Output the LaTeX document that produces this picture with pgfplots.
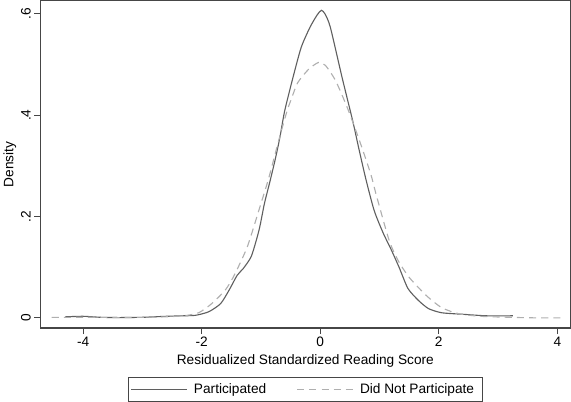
\documentclass[border=0pt]{standalone}
\usepackage{fontspec}
\setmainfont{Liberation Sans}
\usepackage{pgfplots}
\pgfplotsset{compat=1.18}

\definecolor{solidc}{RGB}{95,95,95}
\definecolor{dashc}{RGB}{175,175,175}
\definecolor{framec}{RGB}{70,70,70}

\begin{document}
\begin{tikzpicture}
\begin{axis}[
    scale only axis,
    width=523pt,
    height=323pt,
    xmin=-4.72, xmax=4.22,
    ymin=-0.02, ymax=0.626,
    xtick={-4,-2,0,2,4},
    ytick={0,0.2,0.4,0.6},
    yticklabels={0,.2,.4,.6},
    xticklabels={-4,-2,0,2,4},
    tick align=outside,
    tick pos=left,
    major tick length=6pt,
    axis line style={framec, line width=1.3pt},
    every tick/.style={framec, line width=0.9pt},
    y tick label style={rotate=90, anchor=south, font=\fontsize{13.5}{15}\selectfont},
    x tick label style={font=\fontsize{13.5}{15}\selectfont, yshift=1pt},
    xlabel={Residualized Standardized Reading Score},
    ylabel={Density},
    label style={font=\fontsize{13.5}{15}\selectfont},
    xlabel style={yshift=-1pt},
    ylabel style={yshift=-2pt},
    legend columns=2,
    legend style={at={(0.5,-0.15)}, anchor=north, draw=framec, line width=0.9pt,
      font=\fontsize{13.5}{15}\selectfont, inner xsep=2pt, inner ysep=4pt,
      nodes={inner xsep=6pt},
      /tikz/every even column/.append style={column sep=24pt}},
    legend image code/.code={\draw[#1, line width=1.1pt] (0cm,0cm) -- (1.95cm,0cm);},
]
\addplot[solidc, line width=1.1pt, smooth, tension=0.4] coordinates {
(-4.30,0.002)(-4.0,0.003)(-3.7,0.001)(-3.4,0.0005)(-3.0,0.001)(-2.6,0.003)
(-2.3,0.004)(-2.1,0.005)(-1.88,0.012)(-1.68,0.028)(-1.54,0.054)(-1.40,0.084)
(-1.30,0.097)(-1.16,0.122)(-1.03,0.174)(-0.94,0.226)(-0.85,0.268)(-0.76,0.312)
(-0.68,0.356)(-0.60,0.408)(-0.46,0.474)(-0.32,0.534)(-0.17,0.574)(-0.05,0.598)
(0.02,0.607)(0.08,0.600)(0.17,0.574)(0.37,0.474)(0.55,0.388)(0.65,0.335)
(0.77,0.274)(0.91,0.212)(1.06,0.168)(1.2,0.134)(1.33,0.10)(1.48,0.058)
(1.66,0.034)(1.83,0.018)(2.05,0.01)(2.4,0.007)(2.8,0.004)(3.25,0.004)
};
\addlegendentry{Participated}
\addplot[dashc, line width=1.1pt, dash pattern=on 7pt off 5pt, smooth, tension=0.4] coordinates {
(-4.53,0.001)(-4.2,0.001)(-3.8,0.001)(-3.4,0.0005)(-3.0,0.001)(-2.6,0.002)
(-2.3,0.004)(-2.05,0.01)(-1.83,0.028)(-1.6,0.055)(-1.45,0.084)(-1.23,0.14)
(-1.03,0.214)(-0.87,0.275)(-0.7,0.35)(-0.56,0.408)(-0.48,0.434)(-0.38,0.464)
(-0.2,0.49)(-0.03,0.504)(0.09,0.498)(0.26,0.468)(0.46,0.414)(0.65,0.354)
(0.85,0.285)(0.94,0.245)(1.16,0.154)(1.31,0.114)(1.5,0.08)(1.79,0.044)
(2.05,0.02)(2.34,0.008)(2.7,0.003)(3.2,0.001)(3.6,0.0)(4.05,0.0)
};
\addlegendentry{Did Not Participate}
\end{axis}
\end{tikzpicture}
\end{document}
